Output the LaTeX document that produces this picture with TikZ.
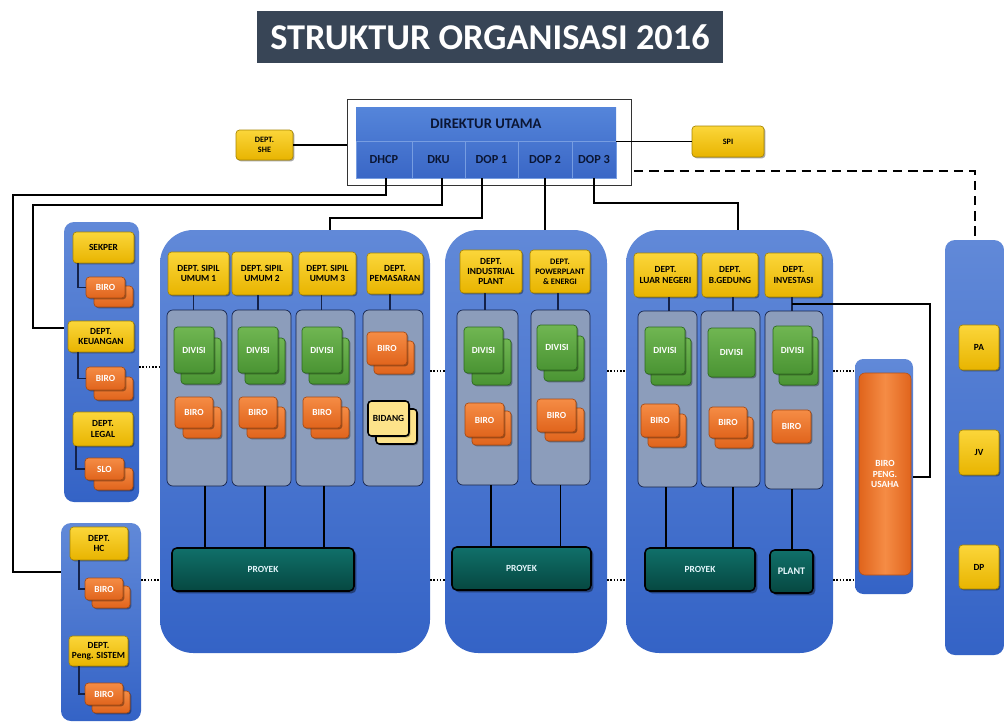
\documentclass[tikz,border=0pt]{standalone}
\usepackage{fontspec}
\setmainfont{Carlito}
\usetikzlibrary{shadows,calc}
\definecolor{titbg}{HTML}{384556}
\definecolor{pb1}{HTML}{6189D8}
\definecolor{pb2}{HTML}{3463C6}
\definecolor{y1}{HTML}{FBD63A}
\definecolor{y2}{HTML}{E8B400}
\definecolor{yb}{HTML}{A88600}
\definecolor{o1}{HTML}{F58C45}
\definecolor{o2}{HTML}{E0641C}
\definecolor{ob}{HTML}{A84A12}
\definecolor{g1}{HTML}{70B652}
\definecolor{g2}{HTML}{4A9433}
\definecolor{gbd}{HTML}{2C6A1E}
\definecolor{t1}{HTML}{10706A}
\definecolor{t2}{HTML}{064740}
\definecolor{colg}{HTML}{8C9DBB}
\definecolor{navy}{HTML}{14224A}
\definecolor{bid}{HTML}{FDE38A}
\definecolor{d1}{HTML}{5585DA}
\definecolor{d2}{HTML}{3A67C6}
\definecolor{dtxt}{HTML}{0B1634}
\newcommand\fs{\fontsize{8}{8.6}\selectfont\bfseries}
\newcommand\boxat[7]{\node[#1,minimum width={((#5)-(#3))*0.03cm},minimum height={((#6)-(#4))*0.03cm}] (#2) at ({((#3)+(#5))/2},{((#4)+(#6))/2}) {#7};}
\newcommand\stackat[9]{\boxat{#1}{#2b}{#3+#7}{#4+#8}{#5+#7}{#6+#8}{}\boxat{#1}{#2}{#3}{#4}{#5}{#6}{#9}}
\tikzset{
  base/.style={inner sep=0pt,outer sep=0pt,align=center,font=\fs},
  shad/.style={drop shadow={shadow xshift=1.2pt,shadow yshift=-1.2pt,opacity=0.35,fill=black}},
  ybox/.style={base,shad,draw=yb,line width=0.6pt,top color=y1,bottom color=y2,rounded corners=3pt,text=black},
  obox/.style={base,shad,draw=ob,line width=0.6pt,top color=o1,bottom color=o2,rounded corners=3pt,text=white},
  gbox/.style={base,shad,draw=gbd,line width=0.6pt,top color=g1,bottom color=g2,rounded corners=3pt,text=white},
  bbox/.style={base,shad,draw=black,line width=1.3pt,fill=bid,rounded corners=3pt,text=black},
  tbox/.style={base,drop shadow={shadow xshift=2pt,shadow yshift=-2pt,opacity=0.4,fill=black},draw=black,line width=1.3pt,top color=t1,bottom color=t2,rounded corners=4pt,text=white!90!cyan},
  colbox/.style={base,draw=navy,line width=0.6pt,fill=colg,rounded corners=5pt},
  bpanel/.style={base,draw=none,top color=pb1,bottom color=pb2},
  conn/.style={draw=black,line width=1.7pt},
  iconn/.style={draw=navy,line width=1.3pt},
  pconn/.style={draw=black,line width=1.3pt},
  dotl/.style={draw=black,line width=1.4pt,dash pattern=on 1.4pt off 1.4pt},
  dashl/.style={draw=black,line width=1.7pt,dash pattern=on 8pt off 5pt},
  dcell/.style={base,draw=d1!80!white,line width=0.3pt,font=\fontsize{10.5}{12}\selectfont\bfseries,text=dtxt}
}
\begin{document}
\begin{tikzpicture}[x=0.03cm,y=-0.03cm]
\useasboundingbox (0,0) rectangle (1005,722);
\fill[white] (0,0) rectangle (1005,722);
% title
\boxat{base,fill=titbg,text=white,font=\fontsize{31}{36}\selectfont\bfseries}{title}{257}{11}{723}{63}{STRUKTUR ORGANISASI 2016}
% direktur
\boxat{base,draw=black!80,line width=0.8pt,fill=white}{outer}{347}{99}{631}{185}{}
\boxat{base,top color=d1,bottom color=d2}{dir}{356}{107}{616}{178}{}
\boxat{base,font=\fontsize{12.5}{14}\selectfont\bfseries,text=dtxt}{head}{356}{107}{616}{141}{DIREKTUR UTAMA}
\boxat{dcell}{dhcp}{356}{141}{412}{178}{DHCP}
\boxat{dcell}{dku}{412}{141}{465}{178}{DKU}
\boxat{dcell}{dop1}{465}{141}{518}{178}{DOP 1}
\boxat{dcell}{dop2}{518}{141}{572}{178}{DOP 2}
\boxat{dcell}{dop3}{572}{141}{616}{178}{DOP 3}
\boxat{ybox,font=\fontsize{7}{8}\selectfont\bfseries}{she}{236}{130}{293}{160}{DEPT.\\SHE}
\boxat{ybox,font=\fontsize{7}{8}\selectfont\bfseries}{spi}{692}{126}{764}{157}{SPI}
% panels
\boxat{bpanel,rounded corners=0.3cm}{pA}{64}{222}{139}{502}{}
\boxat{bpanel,rounded corners=0.3cm}{pB}{61}{523}{141}{721}{}
\boxat{bpanel,rounded corners=1cm}{p1}{160}{230}{430}{653}{}
\boxat{bpanel,rounded corners=1cm}{p2}{445}{230}{607}{653}{}
\boxat{bpanel,rounded corners=1cm}{p3}{626}{230}{833}{653}{}
\boxat{bpanel,rounded corners=0.25cm}{bp}{855}{359}{913}{594}{}
\boxat{bpanel,rounded corners=0.3cm}{pR}{945}{240}{1004}{655}{}
% left panel A
\boxat{ybox}{sekper}{73}{232}{134}{263}{SEKPER}
\stackat{obox}{biroS}{86}{277}{125}{298}{8}{9}{BIRO}
\boxat{ybox}{keu}{68}{321}{134}{352}{DEPT.\\KEUANGAN}
\stackat{obox}{biroK}{86}{367}{125}{390}{8}{10}{BIRO}
\boxat{ybox}{legal}{73}{412}{133}{446}{DEPT.\\LEGAL}
\stackat{obox}{slo}{85}{458}{124}{480}{9}{10}{SLO}
% left panel B
\boxat{ybox}{hc}{70}{527}{128}{560}{DEPT.\\HC}
\stackat{obox}{biroH}{85}{578}{123}{600}{7}{8}{BIRO}
\boxat{ybox}{peng}{69}{636}{128}{666}{DEPT.\\Peng. SISTEM}
\stackat{obox}{biroP}{85}{683}{123}{705}{7}{8}{BIRO}
% panel 1
\boxat{ybox}{d11}{168}{252}{229}{295}{DEPT. SIPIL\\UMUM 1}
\boxat{ybox}{d12}{232}{252}{292}{295}{DEPT. SIPIL\\UMUM 2}
\boxat{ybox}{d13}{299}{252}{356}{295}{DEPT. SIPIL\\UMUM 3}
\boxat{ybox}{dpem}{367}{253}{423}{294}{DEPT.\\PEMASARAN}
\boxat{colbox}{c11}{167}{310}{227}{486}{}
\boxat{colbox}{c12}{232}{310}{291}{486}{}
\boxat{colbox}{c13}{296}{310}{355}{486}{}
\boxat{colbox}{c14}{363}{310}{423}{486}{}
\stackat{gbox}{g11}{174}{327}{214}{373}{7}{11}{DIVISI}
\stackat{gbox}{g12}{238}{327}{278}{373}{7}{11}{DIVISI}
\stackat{gbox}{g13}{302}{327}{342}{373}{7}{11}{DIVISI}
\stackat{obox}{o11}{175}{397}{213}{428}{8}{10}{BIRO}
\stackat{obox}{o12}{239}{397}{277}{428}{8}{10}{BIRO}
\stackat{obox}{o13}{303}{397}{341}{428}{8}{10}{BIRO}
\stackat{obox}{o14}{367}{332}{407}{365}{7}{9}{BIRO}
\stackat{bbox}{bid}{368}{401}{409}{436}{8}{8}{BIDANG}
\boxat{tbox}{pr1}{172}{548}{354}{591}{PROYEK}
% panel 2
\boxat{ybox}{d21}{460}{250}{522}{293}{DEPT.\\INDUSTRIAL\\PLANT}
\boxat{ybox,font=\fontsize{7.2}{8.4}\selectfont\bfseries}{d22}{530}{250}{590}{293}{DEPT.\\POWERPLANT\\\& ENERGI}
\boxat{colbox}{c21}{457}{310}{518}{485}{}
\boxat{colbox}{c22}{531}{310}{590}{485}{}
\stackat{gbox}{g21}{464}{327}{503}{373}{8}{12}{DIVISI}
\stackat{gbox}{g22}{537}{325}{577}{370}{7}{11}{DIVISI}
\stackat{obox}{o21}{465}{403}{504}{437}{7}{8}{BIRO}
\stackat{obox}{o22}{537}{399}{576}{432}{8}{9}{BIRO}
\boxat{tbox}{pr2}{452}{547}{591}{590}{PROYEK}
% panel 3
\boxat{ybox}{d31}{634}{253}{697}{297}{DEPT.\\LUAR NEGERI}
\boxat{ybox}{d32}{702}{253}{758}{297}{DEPT.\\B.GEDUNG}
\boxat{ybox}{d33}{765}{253}{822}{297}{DEPT.\\INVESTASI}
\boxat{colbox}{c31}{638}{311}{697}{487}{}
\boxat{colbox}{c32}{701}{311}{760}{487}{}
\boxat{colbox}{c33}{765}{311}{823}{489}{}
\stackat{gbox}{g31}{645}{327}{685}{374}{6}{11}{DIVISI}
\boxat{gbox}{g32}{708}{328}{755}{377}{DIVISI}
\stackat{gbox}{g33}{773}{326}{812}{374}{6}{11}{DIVISI}
\stackat{obox}{o31}{641}{404}{679}{437}{7}{10}{BIRO}
\stackat{obox}{o32}{709}{407}{747}{438}{6}{10}{BIRO}
\boxat{obox}{o33}{772}{410}{811}{443}{BIRO}
\boxat{tbox}{pr3}{645}{548}{755}{591}{PROYEK}
\boxat{tbox,font=\fontsize{8.6}{9}\selectfont\bfseries}{plant}{770}{550}{813}{593}{PLANT}
% biro peng usaha
\boxat{base,draw=o2!80!black,line width=0.5pt,left color=o2,right color=o2,middle color=o1,rounded corners=5pt,text=white}{bpu}{859}{373}{911}{575}{BIRO\\PENG.\\USAHA}
% far right
\boxat{ybox}{pa}{959}{325}{999}{370}{PA}
\boxat{ybox}{jv}{959}{430}{999}{475}{JV}
\boxat{ybox}{dp}{959}{545}{999}{589}{DP}
% helper coordinates
\coordinate (bendA) at (13,195);
\coordinate (bendB) at (33,205);
\coordinate (bendC) at (330,218);
\coordinate (bendD) at (738,203);
\coordinate (hHC) at (0,572);
\coordinate (hK) at (0,328);
\coordinate (hd) at (0,171);
\coordinate (h0) at (0,367);
\coordinate (h1) at (0,371);
\coordinate (h2) at (0,580);
% director connectors
\draw[conn] (she.east) -- (she.east -| outer.west);
\draw[conn] (spi.west) -- (spi.west -| dir.east);
\draw[dashl] ($(outer.east |- hd)+(3,0)$) -| (pR.north);
\draw[conn] ($(dhcp.south)+(2,0)$) |- (bendA) |- (pB.west |- hHC);
\draw[conn] ($(dku.south)+(3,0)$) |- (bendB) |- (pA.west |- hK);
\draw[conn] ($(dop1.south)+(-10,0)$) |- (bendC) -- (bendC |- p1.north);
\draw[conn] (dop2.south) -- (dop2.south |- p2.north);
\draw[conn] (dop3.south) |- (bendD) -- (bendD |- p3.north);
% left panel connectors
\draw[iconn] ($(sekper.south west)+(5,0)$) |- (biroS.west);
\draw[iconn] ($(keu.south west)+(10,0)$) |- (biroK.west);
\draw[iconn] ($(legal.south west)+(3,0)$) |- (slo.west);
\draw[iconn] ($(hc.south west)+(9,0)$) |- (biroH.west);
\draw[iconn] ($(peng.south west)+(10,0)$) |- (biroP.west);
% dept to column
\foreach \d/\c/\o in {d11/c11/-5,d12/c12/-4,d13/c13/-6,dpem/c14/-5,d21/c21/-6,d22/c22/-2,d31/c31/3.5,d32/c32/3,d33/c33/-1.5}
  \draw[iconn] ($(\d.south)+(\o,0)$) -- ($(\d.south |- \c.north)+(\o,0)$);
% column to proyek
\foreach \c/\p/\o in {c11/pr1/8,c12/pr1/3.5,c13/pr1/-1.5,c21/pr2/3.5,c22/pr2/0,c31/pr3/-1.5,c32/pr3/2.5,c33/plant/-2}
  \draw[pconn] ($(\c.south)+(\o,0)$) -- ($(\c.south |- \p.north)+(\o,0)$);
% investasi to biro peng usaha
\draw[conn] ($(d33.south)+(-1.5,7)$) -| ($(bp.east)+(17,0)$) -- (bp.east);
% dotted links
\draw[dotl] (pA.east |- h0) -- (p1.west |- h0);
\draw[dotl] (pB.east |- h2) -- (p1.west |- h2);
\draw[dotl] (p1.east |- h1) -- (p2.west |- h1);
\draw[dotl] (p1.east |- h2) -- (p2.west |- h2);
\draw[dotl] (p2.east |- h1) -- (p3.west |- h1);
\draw[dotl] (p2.east |- h2) -- (p3.west |- h2);
\draw[dotl] (p3.east |- h1) -- (bp.west |- h1);
\draw[dotl] (p3.east |- h2) -- (bp.west |- h2);
\end{tikzpicture}
\end{document}
